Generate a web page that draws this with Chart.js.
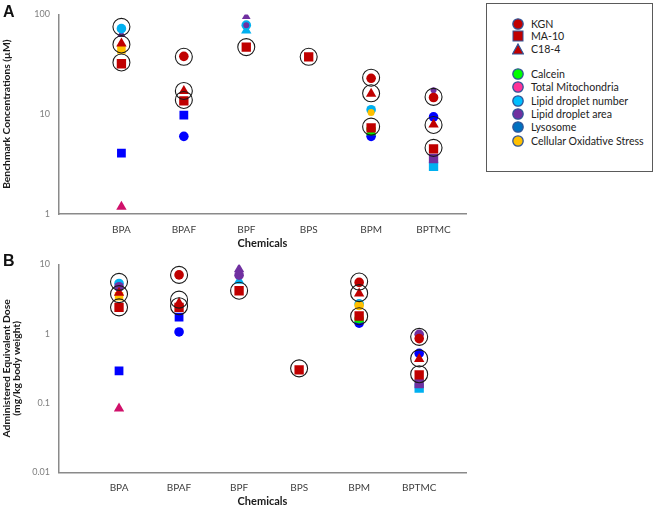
<!DOCTYPE html>
<html>
<head>
<meta charset="utf-8">
<script src="https://cdn.jsdelivr.net/npm/chart.js@4.4.1/dist/chart.umd.min.js"></script>
<style>
  body { margin: 0; background: #fff; font-family: Lato, "Open Sans", sans-serif; }
  #page { position: relative; width: 658px; height: 508px; overflow: hidden; }
  canvas { position: absolute; left: 0; }
  #chartA { top: 0; }
  #chartB { top: 250px; }
  .tag { position: absolute; left: 3px; font: bold 16px Arial, sans-serif; color: #111; }
  #legend {
    position: absolute; left: 486px; top: 3px; width: 167px; height: 169px;
    border: 1.5px solid #5a5a5a; box-sizing: border-box;
  }
  .row { position: absolute; left: 25px; height: 13px; display: flex; align-items: center;
    font-size: 10.6px; color: #222; white-space: nowrap; }
  .row svg { margin-right: 7px; }
</style>
</head>
<body>
<div id="page">
  <canvas id="chartA" width="480" height="250"></canvas>
  <canvas id="chartB" width="480" height="258"></canvas>
  <div class="tag" style="top:3px">A</div>
  <div class="tag" style="top:252px">B</div>
  <div id="legend"></div>
</div>
<script>
const chemicals = ["BPA", "BPAF", "BPF", "BPS", "BPM", "BPTMC"];

// ---- Panel A: benchmark concentrations (µM), one slot per chemical, null = none
const kgnA = [null, 38, null, null, 22.9, 14.7];
const ma10A = [32, 13.6, 47, 37.6, 7.3, 4.5];
const c184A = [51, 17.1, null, null, 16, 7.9];
const ringA = [[75, 50, 33], [37.6, 17.1, 13.9], [47], [37.6], [23.2, 16.2, 7.5], [14.9, 7.8, 4.6]];

const calceinKgnA = [null, null, null, null, 7.1, null];
const calceinC184A = [null, null, null, null, 6.6, null];
const mitoC184A = [1.18, null, null, null, null, null];
const ldnKgnA = [72, null, 78, null, 11.1, null];
const ldnC184A = [null, null, 69, null, null, null];
const ldnMa10A = [null, null, null, null, null, 3.0];
const ldaKgnA = [null, null, 78, null, null, 17.4];
const ldaC184A = [63, null, 95, null, null, null];
const ldaMa10A = [null, null, null, null, null, 3.6];
const lysoKgnA = [null, 6.0, null, null, 6.0, 9.4];
const lysoMa10A = [4.07, 9.8, null, null, null, null];
const oxKgnA = [null, null, null, null, 10.4, null];
const oxMa10A = [44.5, null, null, null, null, null];

// ---- Panel B: administered equivalent dose (mg/kg body weight)
const kgnB = [null, 7.06, null, null, 5.5, 0.85];
const ma10B = [2.4, 2.4, 4.17, 0.3, 1.8, 0.255];
const c184B = [3.9, 2.77, null, null, 3.8, 0.43];
const ringB = [[5.6, 3.73, 2.4], [7.06, 3.1, 2.49], [4.17], [0.316], [5.66, 3.85, 1.79], [0.9, 0.44, 0.26]];

const calceinKgnB = [null, null, null, null, 1.65, null];
const calceinC184B = [null, null, null, null, 1.6, null];
const mitoC184B = [0.083, null, null, null, null, null];
const ldnKgnB = [5.3, null, null, null, 2.7, null];
const ldnC184B = [null, null, 5.8, null, null, null];
const ldnMa10B = [null, null, null, null, null, 0.164];
const ldaKgnB = [4.76, null, 7.0, null, null, 0.98];
const ldaC184B = [null, null, 8.5, null, null, null];
const ldaMa10B = [null, null, null, null, null, 0.19];
const lysoKgnB = [null, 1.06, null, null, 1.42, 0.52];
const lysoMa10B = [0.29, 1.73, null, null, null, null];
const oxKgnB = [null, null, null, null, 2.55, null];
const oxMa10B = [3.46, null, null, null, null, null];

const ticksA = [1, 10, 100];
const ticksB = [0.01, 0.1, 1, 10];

const RED = "#c00000", GREEN = "#00ee00", PINK = "#d0106a", LBLUE = "#00b0f0",
      PURPLE = "#7030a0", BLUE = "#0000ff", ORANGE = "#ffc000", AXIS = "#8a8a8a";

function pts(values) {
  const out = [];
  values.forEach((v, i) => { if (v != null) out.push({ x: i + 1, y: v }); });
  return out;
}

function ringPts(lists) {
  const out = [];
  lists.forEach((l, i) => l.forEach(v => out.push({ x: i + 1, y: v })));
  return out;
}

function marks(values, color, shape, r) {
  return {
    data: pts(values),
    pointStyle: shape,
    pointRadius: r,
    pointBackgroundColor: color,
    pointBorderColor: color,
    pointBorderWidth: 0
  };
}

function rings(lists) {
  return {
    data: ringPts(lists),
    pointStyle: "circle",
    pointRadius: 8.5,
    pointBackgroundColor: "rgba(0,0,0,0)",
    pointBorderColor: "#1a1a1a",
    pointBorderWidth: 1.1
  };
}

// first dataset is drawn on top
const datasetsA = [
  rings(ringA),
  marks(kgnA, RED, "circle", 4.8),
  marks(ma10A, RED, "rect", 6.6),
  marks(c184A, RED, "triangle", 6),
  marks(calceinC184A, GREEN, "triangle", 6),
  marks(calceinKgnA, GREEN, "circle", 4.8),
  marks(ldaKgnA, PURPLE, "circle", 3),
  marks(oxKgnA, ORANGE, "circle", 3.5),
  marks(ldnKgnA, LBLUE, "circle", 4.8),
  marks(ldnC184A, LBLUE, "triangle", 6),
  marks(ldaC184A, PURPLE, "triangle", 5),
  marks(oxMa10A, ORANGE, "rect", 6),
  marks(ldaMa10A, PURPLE, "rect", 6.6),
  marks(ldnMa10A, LBLUE, "rect", 6.6),
  marks(mitoC184A, PINK, "triangle", 6),
  marks(lysoKgnA, BLUE, "circle", 4.8),
  marks(lysoMa10A, BLUE, "rect", 6.2)
];

const datasetsB = [
  rings(ringB),
  marks(kgnB, RED, "circle", 4.8),
  marks(ma10B, RED, "rect", 6.6),
  marks(c184B, RED, "triangle", 6),
  marks(calceinC184B, GREEN, "triangle", 6),
  marks(calceinKgnB, GREEN, "circle", 4.8),
  marks(ldaKgnB, PURPLE, "circle", 4.8),
  marks(ldaC184B, PURPLE, "triangle", 6),
  marks(oxKgnB, ORANGE, "circle", 4.8),
  marks(ldnKgnB, LBLUE, "circle", 4.8),
  marks(ldnC184B, LBLUE, "triangle", 6),
  marks(oxMa10B, ORANGE, "rect", 6),
  marks(ldaMa10B, PURPLE, "rect", 6.6),
  marks(ldnMa10B, LBLUE, "rect", 6.6),
  marks(mitoC184B, PINK, "triangle", 6),
  marks(lysoKgnB, BLUE, "circle", 4.8),
  marks(lysoMa10B, BLUE, "rect", 6.2)
];

function makeChart(id, datasets, cfg) {
  return new Chart(document.getElementById(id), {
    type: "scatter",
    data: { datasets },
    options: {
      responsive: false,
      animation: false,
      events: [],
      layout: { padding: { top: cfg.top, right: 14, left: 0, bottom: 0 } },
      plugins: { legend: { display: false }, tooltip: { enabled: false } },
      scales: {
        x: {
          type: "linear",
          min: 0,
          max: cfg.xMax,
          grid: { display: false, drawTicks: false },
          border: { color: AXIS, width: 1.5 },
          afterBuildTicks: (axis) => { axis.ticks = chemicals.map((c, i) => ({ value: i + 1 })); },
          ticks: {
            autoSkip: false, maxRotation: 0, padding: cfg.xPad, color: "#404040",
            font: { family: "Lato", size: 10 },
            callback: (v) => chemicals[v - 1]
          },
          title: {
            display: true, text: "Chemicals", color: "#1a1a1a", padding: 0,
            font: { family: "Lato", size: 11, weight: "bold" }
          },
          afterFit: (axis) => { axis.height = cfg.xHeight; }
        },
        y: {
          type: "logarithmic",
          min: cfg.ticks[0],
          max: cfg.ticks[cfg.ticks.length - 1],
          grid: { display: false, drawTicks: false },
          border: { color: AXIS, width: 1.5 },
          afterBuildTicks: (axis) => { axis.ticks = cfg.ticks.map(v => ({ value: v })); },
          ticks: {
            padding: 9, color: "#808080",
            font: { family: "Lato", size: 9 },
            callback: (v) => String(v)
          },
          title: {
            display: true, text: cfg.yTitle, color: "#1a1a1a", padding: { top: 1.5 },
            font: { family: "Lato", size: 10.3, weight: "bold", lineHeight: 1.0 }
          },
          afterFit: (axis) => { axis.width = 59; }
        }
      }
    }
  });
}

makeChart("chartA", datasetsA, {
  top: 13, xMax: 6.52, xPad: 10, xHeight: 36, ticks: ticksA,
  yTitle: "Benchmark Concentrations (\u00b5M)"
});
makeChart("chartB", datasetsB, {
  top: 11.7, xMax: 6.78, xPad: 9, xHeight: 35.7, ticks: ticksB,
  yTitle: ["Administered Equivalent Dose", "(mg/kg body weight)"]
});

// ---- legend
const cellLines = [["KGN", "circle"], ["MA-10", "rect"], ["C18-4", "triangle"]];
const endpoints = [
  ["Calcein", "#00ff00"], ["Total Mitochondria", "#ff3399"], ["Lipid droplet number", "#00bfff"],
  ["Lipid droplet area", PURPLE], ["Lysosome", "#0070c0"], ["Cellular Oxidative Stress", ORANGE]
];

function icon(shape, fill) {
  const stroke = "#2f5597";
  let body;
  if (shape === "rect") body = `<rect x="1" y="1" width="10" height="10" fill="${fill}" stroke="${stroke}" stroke-width="1"/>`;
  else if (shape === "triangle") body = `<polygon points="6,1 11.5,11 0.5,11" fill="${fill}" stroke="${stroke}" stroke-width="1.2"/>`;
  else body = `<circle cx="6" cy="6" r="5.2" fill="${fill}" stroke="${stroke}" stroke-width="1.3"/>`;
  return `<svg width="12" height="12" viewBox="0 0 12 12">${body}</svg>`;
}

const legend = document.getElementById("legend");
let html = "";
cellLines.forEach(([name, shape], i) => {
  html += `<div class="row" style="top:${13 + i * 12.7}px">${icon(shape, RED)}${name}</div>`;
});
endpoints.forEach(([name, color], i) => {
  html += `<div class="row" style="top:${63.5 + i * 13.35}px">${icon("circle", color)}${name}</div>`;
});
legend.innerHTML = html;
</script>
</body>
</html>
